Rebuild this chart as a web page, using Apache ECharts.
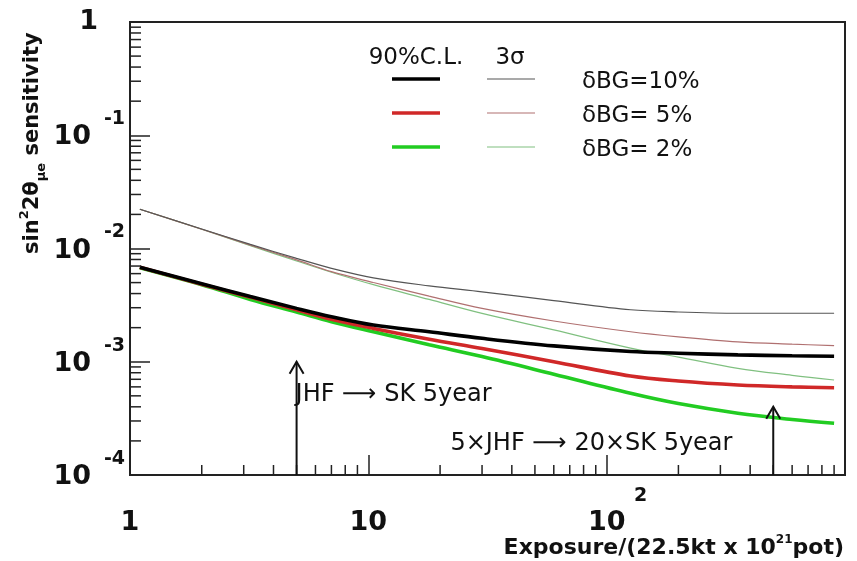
<!DOCTYPE html>
<html><head><meta charset="utf-8">
<script src="https://cdn.jsdelivr.net/npm/echarts@6/dist/echarts.min.js"></script>
<style>html,body{margin:0;padding:0;background:#fff}#c{width:857px;height:561px}</style>
</head><body><div id="c"></div>
<script>
// Exposure sample points (x)
const exposure = [1.1, 2, 3.2, 5, 7, 10.5, 18, 30, 60, 126, 200, 355, 600, 900];
// 90% C.L. sensitivities
const cl90_bg10 = [0.00682, 0.00489, 0.00376, 0.00296, 0.00250, 0.00211, 0.00184, 0.00161, 0.00138, 0.00123, 0.00119, 0.00115, 0.00113, 0.00112];
const cl90_bg5  = [0.00682, 0.00484, 0.00372, 0.00288, 0.00237, 0.00197, 0.00158, 0.00131, 0.00100, 0.000748, 0.000676, 0.000624, 0.000600, 0.000590];
const cl90_bg2  = [0.00676, 0.00479, 0.00355, 0.00275, 0.00226, 0.00184, 0.00141, 0.00111, 0.000776, 0.000526, 0.000427, 0.000351, 0.000309, 0.000286];
// 3 sigma sensitivities
const s3_bg10 = [0.0222, 0.01486, 0.01086, 0.00818, 0.00668, 0.00550, 0.00468, 0.00414, 0.00347, 0.00288, 0.00275, 0.00268, 0.00268, 0.00268];
const s3_bg5  = [0.0222, 0.01479, 0.01072, 0.00794, 0.00624, 0.00501, 0.00380, 0.00296, 0.00229, 0.00184, 0.00166, 0.00150, 0.00143, 0.00139];
const s3_bg2  = [0.0222, 0.01479, 0.01059, 0.00776, 0.00617, 0.00479, 0.00355, 0.00267, 0.00191, 0.00132, 0.00110, 0.000875, 0.000759, 0.000690];
// minor tick positions
const xMinorTicks = [2,3,4,5,6,7,8,9,20,30,40,50,60,70,80,90,200,300,400,500,600,700,800,900];
const yMinorTicks = [0.0002,0.0003,0.0004,0.0005,0.0006,0.0007,0.0008,0.0009,
  0.002,0.003,0.004,0.005,0.006,0.007,0.008,0.009,
  0.02,0.03,0.04,0.05,0.06,0.07,0.08,0.09,
  0.2,0.3,0.4,0.5,0.6,0.7,0.8,0.9];
// arrows: x position, tip value
const arrowX = [5, 500];
const arrowTip = [0.001, 0.0004];
// annotations
const annoText = ['JHF \u27F6 SK 5year', '5\u00D7JHF \u27F6 20\u00D7SK 5year'];
const annoX = [4.95, 22.1];
const annoY = [0.00051, 0.000188];
// legend labels
const legendHeaders = ['90%C.L.', '3\u03C3'];
const legendLabels = ['\u03B4BG=10%', '\u03B4BG= 5%', '\u03B4BG= 2%'];

const FONT = 'DejaVu Sans';
const zip = (xs, ys) => xs.map((x, i) => [x, ys[i]]);
const thick = (d, c) => ({type:'line', data: zip(exposure, d), showSymbol:false, smooth:0.35,
  lineStyle:{color:c, width:3.6}, silent:true, z:3});
const thin = (d, c) => ({type:'line', data: zip(exposure, d), showSymbol:false, smooth:0.35,
  lineStyle:{color:c, width:1.2}, silent:true, z:2});

const chart = echarts.init(document.getElementById('c'), null, {renderer:'canvas'});
const legendLineColors = [['#000000','#555555'],['#d02828','#b07070'],['#22cc22','#80c080']];
const legendY = [79, 113, 147];
const graphics = [];
legendY.forEach((y, i) => {
  graphics.push({type:'line', shape:{x1:392,y1:y,x2:440,y2:y}, style:{stroke:legendLineColors[i][0], lineWidth:3.6}});
  graphics.push({type:'line', shape:{x1:487,y1:y,x2:535,y2:y}, style:{stroke:legendLineColors[i][1], lineWidth:1.2}});
  graphics.push({type:'text', x:582, y:y+3, style:{text:legendLabels[i], fontFamily:FONT, fontSize:23, fill:'#111', align:'left', verticalAlign:'middle'}});
});
graphics.push({type:'text', x:416, y:58, style:{text:legendHeaders[0], fontFamily:FONT, fontSize:23, fill:'#111', align:'center', verticalAlign:'middle'}});
graphics.push({type:'text', x:510, y:58, style:{text:legendHeaders[1], fontFamily:FONT, fontSize:23, fill:'#111', align:'center', verticalAlign:'middle'}});
// y axis title
graphics.push({type:'text', x:33, y:254, rotation:Math.PI/2, style:{
  text:'{n|sin}{s|2}{n|2\u03B8}{u|\u03BCe}{n| sensitivity}', align:'left', verticalAlign:'middle',
  rich:{
    n:{fontFamily:FONT, fontWeight:'bold', fontSize:21, lineHeight:30, verticalAlign:'middle', fill:'#111'},
    s:{fontFamily:FONT, fontWeight:'bold', fontSize:13, lineHeight:13, verticalAlign:'top', fill:'#111'},
    u:{fontFamily:FONT, fontWeight:'bold', fontSize:13, lineHeight:13, verticalAlign:'bottom', fill:'#111'}
  }}});
// x axis title
graphics.push({type:'text', x:844, y:548, style:{
  text:'{n|Exposure/(22.5kt x 10}{s|21}{n|pot)}', align:'right', verticalAlign:'middle',
  rich:{
    n:{fontFamily:FONT, fontWeight:'bold', fontSize:22, lineHeight:28, verticalAlign:'middle', fill:'#111'},
    s:{fontFamily:FONT, fontWeight:'bold', fontSize:12, lineHeight:12, verticalAlign:'top', fill:'#111'}
  }}});

const option = {
  animation:false,
  backgroundColor:'#fff',
  grid:{left:130, right:12, top:22, bottom:86, containLabel:false, outerBoundsMode:'none',
    show:true, borderColor:'#222', borderWidth:2, backgroundColor:'transparent'},
  xAxis:{type:'log', logBase:10, min:1, max:1000,
    axisLine:{lineStyle:{color:'#222', width:2}},
    axisTick:{inside:true, length:20, lineStyle:{color:'#222', width:1.5}},
    splitLine:{show:false},
    axisLabel:{margin:10, color:'#111', showMaxLabel:true,
      formatter:(v)=>{const e=Math.round(Math.log10(v)); if(e===0) return '{e| }\n{b|1}'; if(e===1) return '{e| }\n{b|10}'; if(e===2) return '{e|2}\n{b|10}'; return '';},
      rich:{e:{fontFamily:FONT, fontWeight:'bold', fontSize:19, lineHeight:22, padding:[0,0,0,68], color:'#111'},
            b:{fontFamily:FONT, fontWeight:'bold', fontSize:27, lineHeight:32, color:'#111'}}}
  },
  yAxis:{type:'log', logBase:10, min:0.0001, max:1,
    axisLine:{lineStyle:{color:'#222', width:2}},
    axisTick:{inside:true, length:20, lineStyle:{color:'#222', width:1.5}},
    splitLine:{show:false},
    axisLabel:{margin:5, color:'#111', showMinLabel:true, showMaxLabel:true,
      formatter:(v)=>{const e=Math.round(Math.log10(v)); if(e===0) return '{one|1}'; return '{e|'+e+'}\n{b|10}';},
      rich:{one:{fontFamily:FONT, fontWeight:'bold', fontSize:27, lineHeight:32, padding:[0,27,0,0], color:'#111'},
            e:{fontFamily:FONT, fontWeight:'bold', fontSize:19, lineHeight:22, color:'#111'},
            b:{fontFamily:FONT, fontWeight:'bold', fontSize:27, lineHeight:32, padding:[0,34,18,0], color:'#111'}}}
  },
  graphic:graphics,
  series:[
    thin(s3_bg2, '#80c080'), thin(s3_bg5, '#b07070'), thin(s3_bg10, '#555555'),
    thick(cl90_bg2, '#22cc22'), thick(cl90_bg5, '#d02828'), thick(cl90_bg10, '#000000'),
    {type:'custom', silent:true, clip:false, z:5, data: xMinorTicks.map(v=>[v, 0.0001]),
      renderItem:(p, api)=>{const pt=api.coord([api.value(0), api.value(1)]);
        return {type:'line', shape:{x1:pt[0], y1:pt[1], x2:pt[0], y2:pt[1]-10}, style:{stroke:'#222', lineWidth:1.5}};}},
    {type:'custom', silent:true, clip:false, z:5, data: yMinorTicks.map(v=>[1, v]),
      renderItem:(p, api)=>{const pt=api.coord([api.value(0), api.value(1)]);
        return {type:'line', shape:{x1:pt[0], y1:pt[1], x2:pt[0]+11, y2:pt[1]}, style:{stroke:'#222', lineWidth:1.5}};}},
    {type:'custom', silent:true, clip:false, z:6, data: arrowX.map((x,i)=>[x, 0.0001, arrowTip[i]]),
      renderItem:(p, api)=>{const b=api.coord([api.value(0), api.value(1)]); const t=api.coord([api.value(0), api.value(2)]);
        return {type:'group', children:[
          {type:'line', shape:{x1:b[0], y1:b[1], x2:t[0], y2:t[1]}, style:{stroke:'#111', lineWidth:2}},
          {type:'polyline', shape:{points:[[t[0]-7, t[1]+12],[t[0], t[1]],[t[0]+7, t[1]+12]]}, style:{stroke:'#111', lineWidth:2, fill:null}}
        ]};}},
    {type:'custom', silent:true, clip:false, z:6, data: annoX.map((x,i)=>[x, annoY[i]]),
      renderItem:(p, api)=>{const pt=api.coord([api.value(0), api.value(1)]);
        return {type:'text', x:pt[0], y:pt[1], style:{text:annoText[p.dataIndex], fontFamily:FONT, fontSize:24, fill:'#111', align:'left', verticalAlign:'middle'}};}}
  ]
};
chart.setOption(option);
</script>
</body></html>
